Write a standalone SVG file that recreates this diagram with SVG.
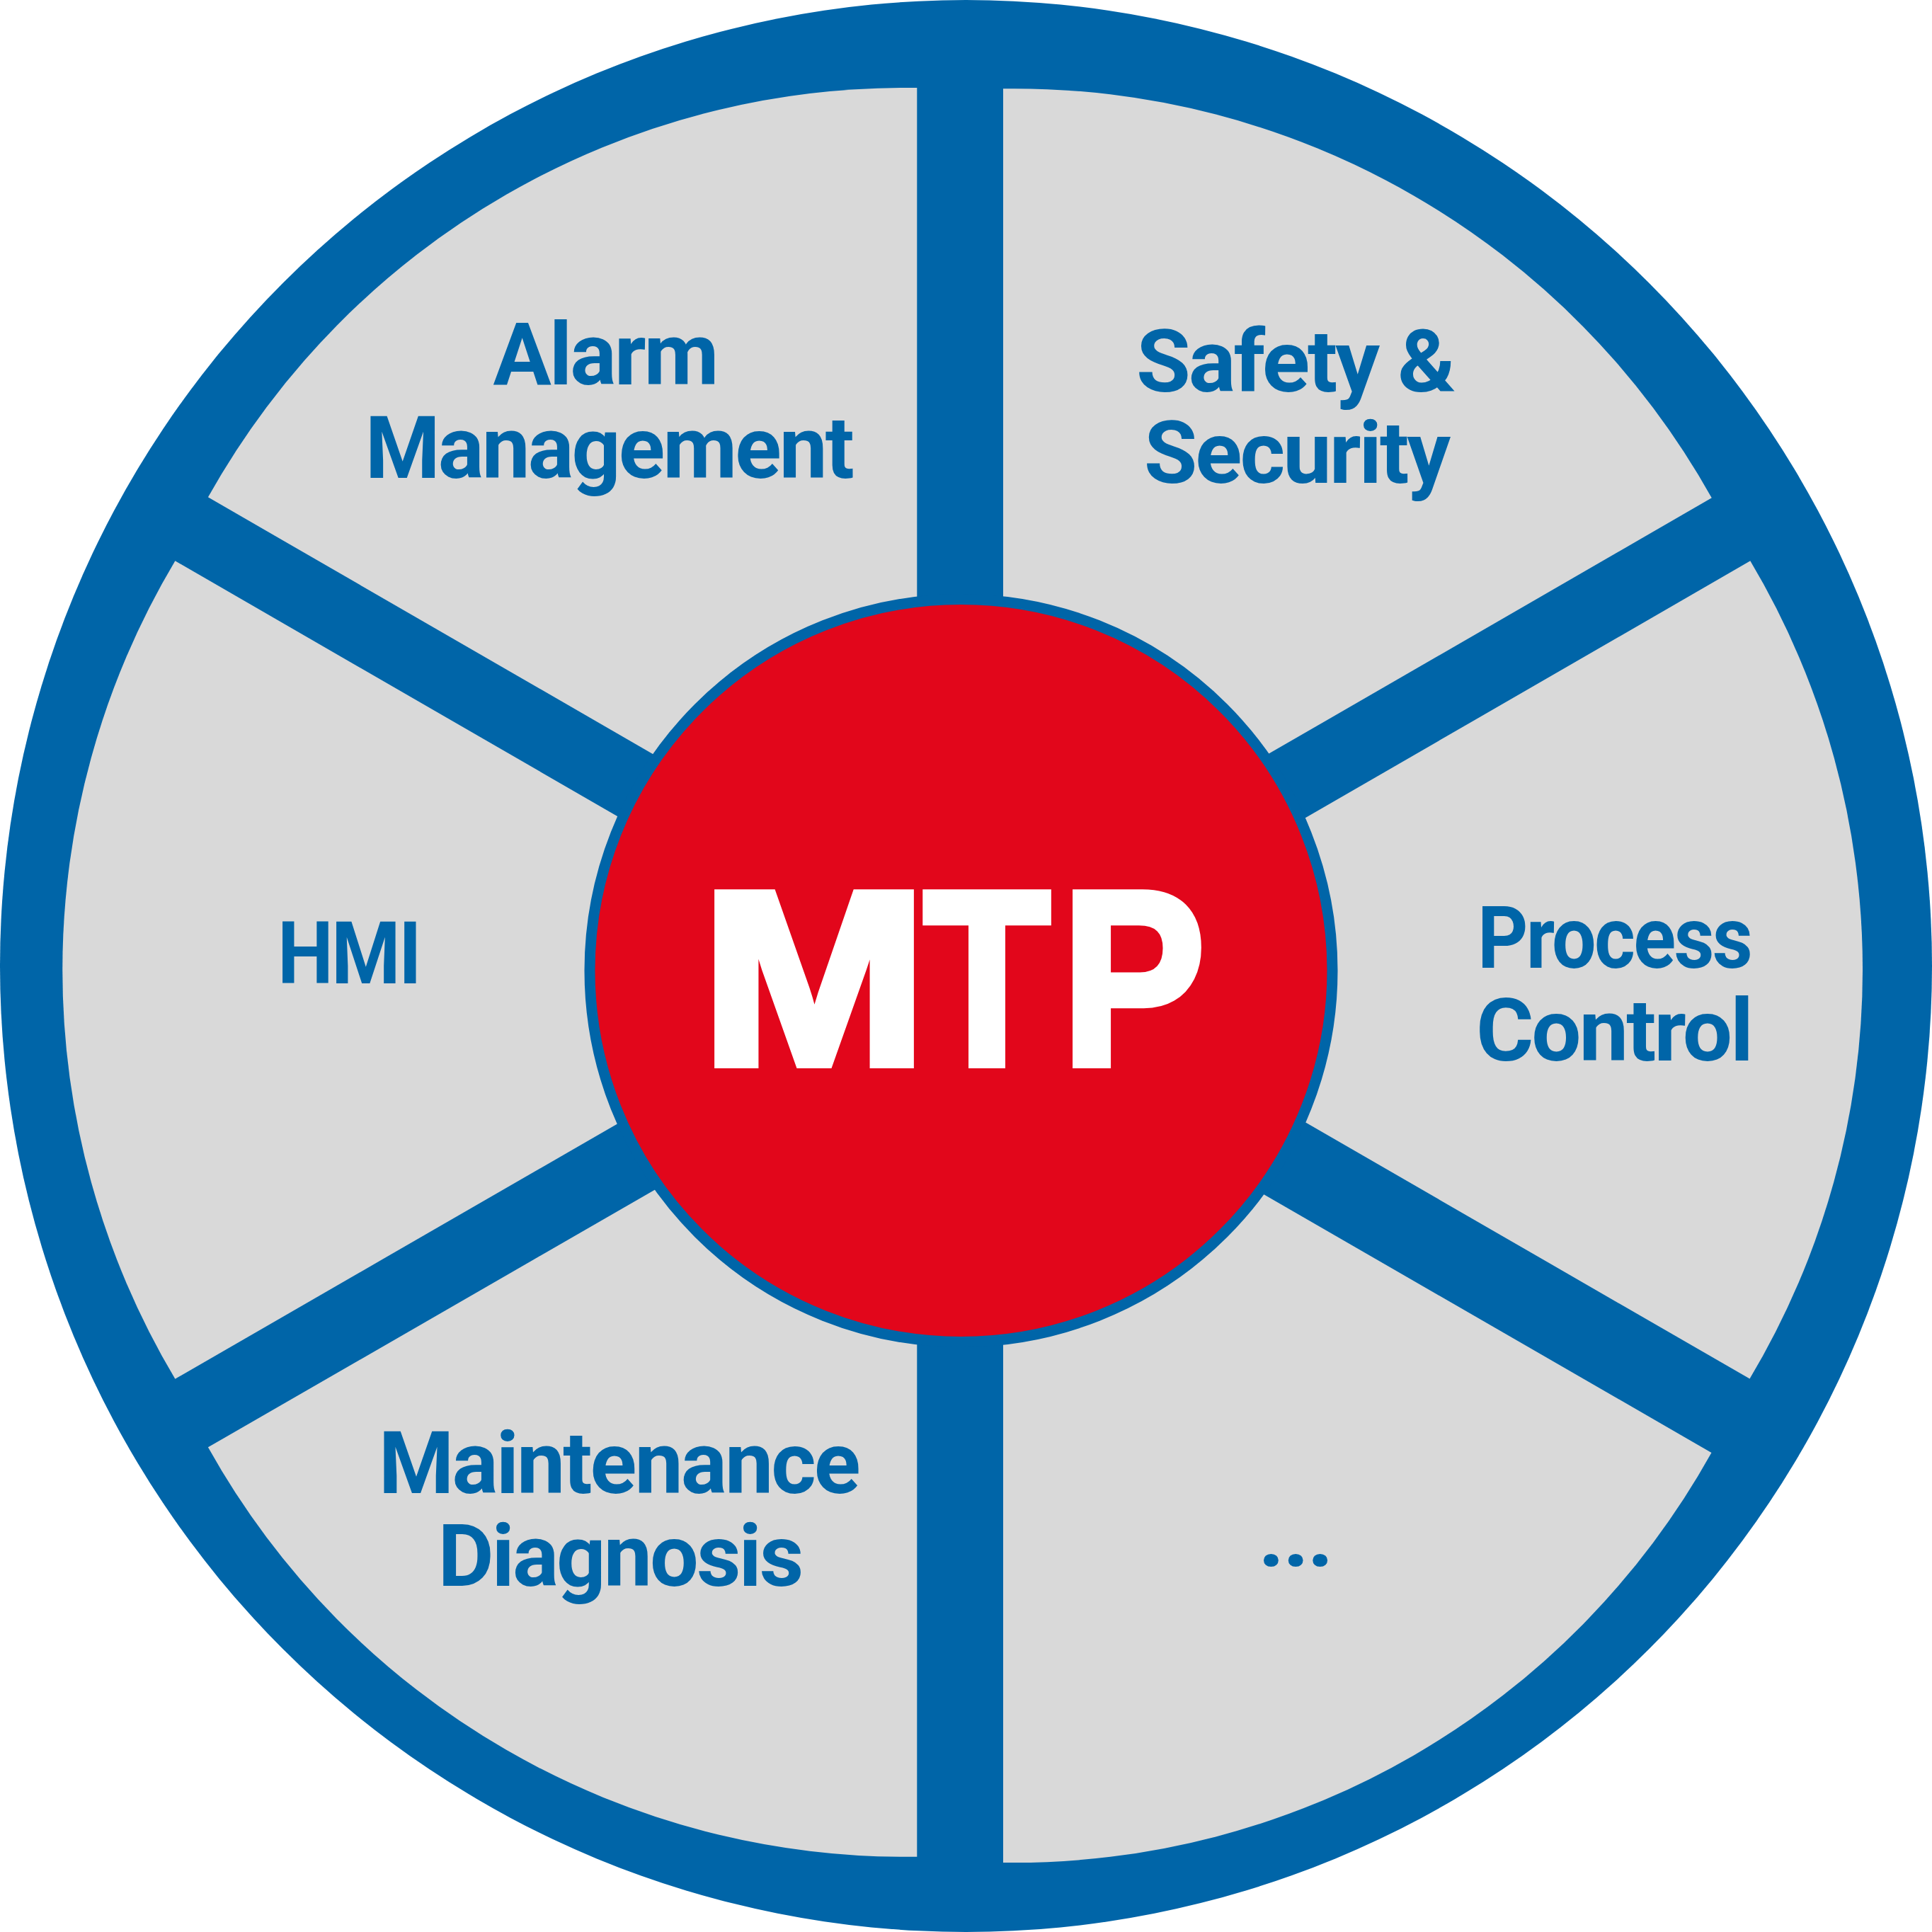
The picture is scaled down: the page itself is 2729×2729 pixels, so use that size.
<svg xmlns="http://www.w3.org/2000/svg" width="2729" height="2729" viewBox="0 0 2729 2729">
  <style>
    .sector { fill: #d9d9d9; }
    .label { font-family: Roboto, "Open Sans", "Liberation Sans", sans-serif; font-weight: 700; font-size: 122px; letter-spacing: -3px; fill: #0065a8; text-anchor: middle; }
    .mtp { font-family: "Liberation Sans", Arial, sans-serif; font-weight: bold; font-size: 350px; fill: #ffffff; stroke: #ffffff; stroke-width: 12; stroke-linejoin: miter; }
  </style>
  <g id="frame">
    <circle cx="1364.5" cy="1364.5" r="1364.5" fill="#0065a8"/>
  </g>
  <g id="alarm-management">
    <path class="sector" d="M 1295.3 124 L 1295.3 1280.5 L 293.9 702.3 A 1128 1128 0 0 1 1295.3 124 Z"/>
    <text class="label" x="854.5" y="543" textLength="316" lengthAdjust="spacingAndGlyphs">Alarm</text>
    <text class="label" x="859.7" y="675" textLength="688" lengthAdjust="spacingAndGlyphs">Management</text>
  </g>
  <g id="safety-security">
    <path class="sector" d="M 1417 125.3 A 1128 1128 0 0 1 2417.8 703.3 L 1417 1281.4 Z"/>
    <text class="label" x="1829" y="553" textLength="448" lengthAdjust="spacingAndGlyphs">Safety &amp;</text>
    <text class="label" x="1831" y="682" textLength="430" lengthAdjust="spacingAndGlyphs">Security</text>
  </g>
  <g id="process-control">
    <path class="sector" d="M 2472.3 792.3 A 1128 1128 0 0 1 2471.5 1947.6 L 1471.5 1370.3 Z"/>
    <text class="label" x="2280" y="1367" textLength="386" lengthAdjust="spacingAndGlyphs">Process</text>
    <text class="label" x="2279.4" y="1498" textLength="389" lengthAdjust="spacingAndGlyphs">Control</text>
  </g>
  <g id="more">
    <path class="sector" d="M 2417.5 2052 A 1128 1128 0 0 1 1417 2631 L 1417 1474.7 Z"/>
    <text class="label" x="1829" y="2212" textLength="104" lengthAdjust="spacingAndGlyphs">...</text>
  </g>
  <g id="maintenance-diagnosis">
    <path class="sector" d="M 1295.3 2622.7 A 1128 1128 0 0 1 293.9 2044.3 L 1295.3 1467.1 Z"/>
    <text class="label" x="873.7" y="2109" textLength="678" lengthAdjust="spacingAndGlyphs">Maintenance</text>
    <text class="label" x="875.4" y="2240" textLength="514" lengthAdjust="spacingAndGlyphs">Diagnosis</text>
  </g>
  <g id="hmi">
    <path class="sector" d="M 247.4 1947.7 A 1128 1128 0 0 1 247.4 792.3 L 1248.5 1370.3 Z"/>
    <text class="label" x="492.5" y="1389" textLength="201" lengthAdjust="spacingAndGlyphs">HMI</text>
  </g>
  <g id="connectors"></g>
  <g id="mtp">
    <circle cx="1357.5" cy="1371" r="524.5" fill="#e2061b" stroke="#0065a8" stroke-width="15"/>
    <text class="mtp" x="990" y="1503" textLength="320" lengthAdjust="spacingAndGlyphs">M</text>
    <text class="mtp" x="1305" y="1503" textLength="178" lengthAdjust="spacingAndGlyphs">T</text>
    <text class="mtp" x="1500" y="1503" textLength="202" lengthAdjust="spacingAndGlyphs">P</text>
  </g>
</svg>
